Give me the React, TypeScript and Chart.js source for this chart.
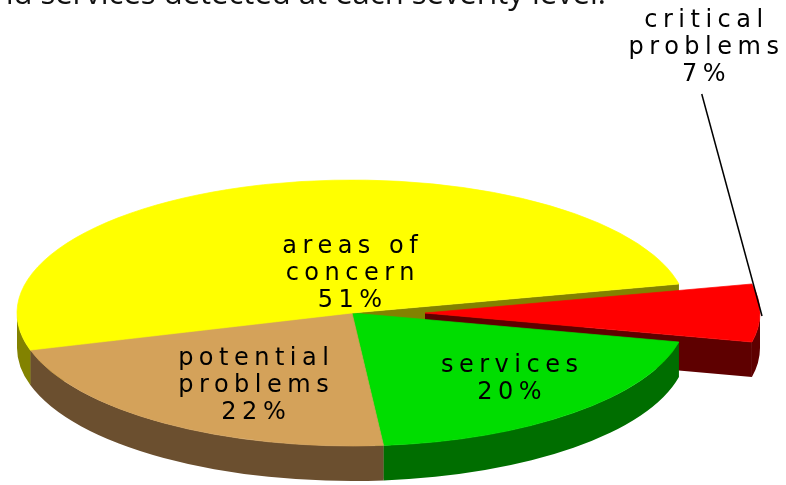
import React, { useEffect, useRef } from "react";
import { Chart, ArcElement, registerables } from "chart.js";

Chart.register(...registerables);

// ---- data ----
const categories: string[][] = [
  ["critical", "problems"],
  ["services"],
  ["potential", "problems"],
  ["areas of", "concern"],
];
const values: number[] = [7, 20, 22, 51];
const topColors: string[] = ["#ff0000", "#00dd00", "#d4a25a", "#ffff00"];
const sideColors: string[] = ["#5e0000", "#006e00", "#6b4f2f", "#828200"];
const explodedIndex = 0;
const titleText = "and services detected at each severity level.";

// ---- layout / style (not data) ----
const K = 133 / 335; // vertical squash of the pie
const DEPTH = 35;
const EXPLODE = 73;
const LABEL_FONT = "24px 'DejaVu Sans'";
const LABEL_SPACING = 5.5;
const LINE_H = 27;
// label anchors: [centerX offset in R units, first baseline offset in R*K units]
const labelAnchors: [number, number][] = [
  [1.05, -2.15],
  [0.47, 0.44],
  [-0.294, 0.39],
  [-0.006, -0.45],
];

function arcGeom(a: any, i: number, cx: number, cy: number) {
  const d = i === explodedIndex ? EXPLODE : 0;
  const half = (a.startAngle + a.endAngle) / 2;
  return {
    ox: cx + Math.cos(half) * d,
    oy: cy + Math.sin(half) * d * K,
    s: a.startAngle,
    e: a.endAngle,
    half,
  };
}

const pie3d = {
  id: "pie3d",
  beforeDatasetsDraw(chart: any) {
    const ctx: CanvasRenderingContext2D = chart.ctx;
    const arcs = chart.getDatasetMeta(0).data;
    if (!arcs.length) return;
    const cx = arcs[0].x;
    const cy = arcs[0].y;
    const R = arcs[0].outerRadius;
    const geoms = arcs.map((a: any, i: number) => arcGeom(a, i, cx, cy));

    // exploded slice: shift its top face along its mid-angle
    const ex: any = arcs[explodedIndex];
    if (ex && !ex.__exploded) {
      ex.__exploded = true;
      ex.draw = function (c: CanvasRenderingContext2D) {
        const h = (this.startAngle + this.endAngle) / 2;
        c.save();
        c.translate(Math.cos(h) * EXPLODE, Math.sin(h) * EXPLODE);
        (ArcElement.prototype as any).draw.call(this, c);
        c.restore();
      };
    }

    // draw order: exploded slice's walls last among radial walls
    const order = geoms.map((_: any, i: number) => i).filter((i: number) => i !== explodedIndex);
    order.push(explodedIndex);

    ctx.save();
    // radial walls
    order.forEach((i: number) => {
      const g = geoms[i];
      const edges: number[] = [];
      if (Math.cos(g.s) < 0) edges.push(g.s);
      if (Math.cos(g.e) > 0) edges.push(g.e);
      edges.forEach((t) => {
        const px = g.ox + R * Math.cos(t);
        const py = g.oy + R * K * Math.sin(t);
        ctx.beginPath();
        ctx.moveTo(g.ox, g.oy);
        ctx.lineTo(px, py);
        ctx.lineTo(px, py + DEPTH);
        ctx.lineTo(g.ox, g.oy + DEPTH);
        ctx.closePath();
        ctx.fillStyle = sideColors[i];
        ctx.fill();
      });
    });
    // rim walls
    geoms.forEach((g: any, i: number) => {
      for (let m = -2; m <= 2; m += 2) {
        const lo = Math.max(g.s, m * Math.PI);
        const hi = Math.min(g.e, m * Math.PI + Math.PI);
        if (hi > lo) {
          ctx.beginPath();
          ctx.ellipse(g.ox, g.oy, R, R * K, 0, lo, hi, false);
          ctx.ellipse(g.ox, g.oy + DEPTH, R, R * K, 0, hi, lo, true);
          ctx.closePath();
          ctx.fillStyle = sideColors[i];
          ctx.fill();
        }
      }
    });
    ctx.restore();

    ctx.save();
    ctx.translate(cx, cy);
    ctx.scale(1, K);
    ctx.translate(-cx, -cy);
  },
  afterDatasetsDraw(chart: any) {
    chart.ctx.restore();
  },
  afterDraw(chart: any) {
    const ctx: CanvasRenderingContext2D = chart.ctx;
    const arcs = chart.getDatasetMeta(0).data;
    if (!arcs.length) return;
    const cx = arcs[0].x;
    const cy = arcs[0].y;
    const R = arcs[0].outerRadius;
    const total = values.reduce((a, b) => a + b, 0);

    ctx.save();
    ctx.fillStyle = "#000";
    ctx.font = LABEL_FONT;
    (ctx as any).letterSpacing = LABEL_SPACING + "px";
    ctx.textAlign = "center";
    ctx.textBaseline = "alphabetic";
    const lastBase: number[] = [];
    categories.forEach((lines, i) => {
      const [fx, fy] = labelAnchors[i];
      const x = cx + fx * R + LABEL_SPACING / 2;
      let y = cy + fy * R * K;
      const all = [...lines, Math.round((values[i] / total) * 100) + "%"];
      all.forEach((t) => {
        ctx.fillText(t, x, y);
        y += LINE_H;
      });
      lastBase[i] = y - LINE_H;
    });

    // leader line for exploded slice
    const g = arcGeom(arcs[explodedIndex], explodedIndex, cx, cy);
    const ex = g.ox + R * Math.cos(g.half);
    const ey = g.oy + R * K * Math.sin(g.half) + 3;
    const [fx] = labelAnchors[explodedIndex];
    ctx.beginPath();
    ctx.moveTo(cx + fx * R - 2, lastBase[explodedIndex] + 13);
    ctx.lineTo(ex + 2, ey);
    ctx.strokeStyle = "#000";
    ctx.lineWidth = 1.5;
    ctx.stroke();

    // title (cut off at the top)
    (ctx as any).letterSpacing = "0px";
    ctx.font = "31px 'Open Sans'";
    ctx.textAlign = "right";
    ctx.fillStyle = "#111";
    ctx.fillText(titleText, 606, 4);
    ctx.restore();
  },
};

export default function App() {
  const ref = useRef<HTMLCanvasElement | null>(null);
  useEffect(() => {
    if (!ref.current) return;
    const chart = new Chart(ref.current, {
      type: "pie",
      data: {
        labels: categories as any,
        datasets: [
          {
            data: values,
            backgroundColor: topColors,
            borderColor: topColors,
            borderWidth: 1,
            clip: false as any,
          } as any,
        ],
      },
      options: {
        responsive: false,
        animation: false,
        rotation: 77.4,
        radius: 335,
        layout: { padding: { left: 0, right: 82, top: 141, bottom: 0 } },
        plugins: {
          legend: { display: false },
          tooltip: { enabled: false },
          title: { display: false },
        },
      } as any,
      plugins: [pie3d],
    });
    return () => chart.destroy();
  }, []);
  return (
    <canvas
      ref={ref}
      width={786}
      height={485}
      style={{ position: "absolute", left: 0, top: 0, display: "block", background: "#fff" }}
    />
  );
}
